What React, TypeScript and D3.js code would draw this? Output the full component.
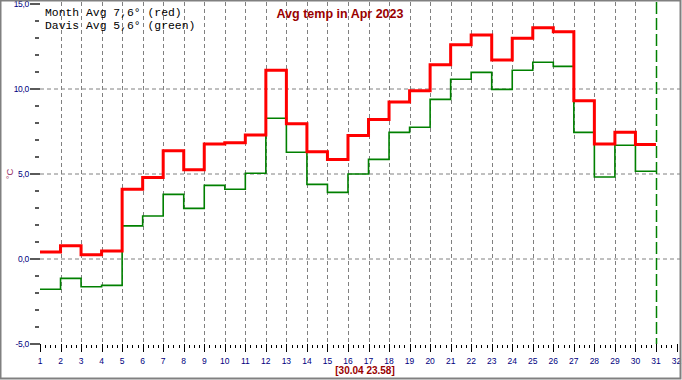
import React from "react";
import * as d3 from "d3";

const days: number[] = d3.range(1, 31);
const monthAvg: number[] = [
  0.41, 0.78, 0.25, 0.47, 4.1, 4.8, 6.37, 5.25, 6.76, 6.84,
  7.29, 11.1, 7.96, 6.31, 5.86, 7.27, 8.2, 9.24, 9.9, 11.43,
  12.6, 13.18, 11.7, 12.98, 13.6, 13.37, 9.31, 6.76, 7.45, 6.73,
];
const davisAvg: number[] = [
  -1.78, -1.14, -1.63, -1.55, 1.95, 2.53, 3.8, 2.98, 4.33, 4.1,
  5.04, 8.28, 6.28, 4.39, 3.92, 5.0, 5.86, 7.45, 7.75, 9.39,
  10.57, 10.98, 9.98, 11.1, 11.57, 11.33, 7.45, 4.82, 6.69, 5.16,
];
const xTickLabels: number[] = d3.range(1, 33);
const yTickLabels: number[] = [-5, 0, 5, 10, 15];
const title = "Avg temp in Apr 2023";
const legend1 = "Month Avg 7,6° (red)";
const legend2 = "Davis Avg 5,6° (green)";
const footer = "[30.04 23.58]";
const cursorDay = 31;

const W = 682;
const H = 380;

export default function App() {
  const x = d3.scaleLinear().domain([1, 32]).range([40, 676.5]);
  const y = d3.scaleLinear().domain([-5, 15]).range([344, 4]);

  const line = d3
    .line<[number, number]>()
    .x((d) => x(d[0]))
    .y((d) => y(d[1]))
    .curve(d3.curveStepAfter);

  const pts = (vals: number[]): [number, number][] => {
    const p: [number, number][] = days.map((d, i) => [d, vals[i]]);
    p.push([days[days.length - 1] + 1, vals[vals.length - 1]]);
    return p;
  };

  const minorY = d3.range(-5, 16).filter((v) => v % 5 !== 0);
  const minorX = d3.range(1, 32, 0.25).filter((v) => v % 1 !== 0);
  const fmt = (v: number) => v.toFixed(1).replace(".", ",");
  const navy = "#000080";
  const dark = "#990000";

  return (
    <svg
      width={W}
      height={H}
      style={{ position: "fixed", left: 0, top: 0, background: "#fff" }}
      fontFamily="'Liberation Sans', Arial, sans-serif"
    >
      <rect x={0} y={0} width={W} height={H} fill="#fff" />
      {/* grid */}
      {[0, 5, 10].map((v) => (
        <line key={"hg" + v} x1={40} x2={680} y1={y(v)} y2={y(v)} stroke="#808080" strokeDasharray="4,3" />
      ))}
      {d3.range(2, 31).map((d) => (
        <line key={"vg" + d} x1={Math.round(x(d)) + 0.5} x2={Math.round(x(d)) + 0.5} y1={2} y2={344} stroke="#808080" strokeDasharray="4,3" />
      ))}
      <line x1={Math.round(x(cursorDay)) + 0.5} x2={Math.round(x(cursorDay)) + 0.5} y1={2} y2={344} stroke="#008000" strokeWidth={1.5} strokeDasharray="12,4" />

      {/* y axis ticks */}
      {yTickLabels.map((v) => (
        <g key={"yt" + v}>
          <line x1={30} x2={40} y1={y(v)} y2={y(v)} stroke="#000" strokeWidth={1.3} />
          <text x={29} y={y(v) + 3} textAnchor="end" fontSize={8.5} fill={navy} letterSpacing={-0.3}>
            {fmt(v)}
          </text>
        </g>
      ))}
      {minorY.map((v) => (
        <line key={"ym" + v} x1={35} x2={39} y1={y(v)} y2={y(v)} stroke="#000" strokeWidth={1.3} />
      ))}

      {/* x axis ticks */}
      {xTickLabels.map((d) => (
        <g key={"xt" + d}>
          <line x1={Math.round(x(d)) + 0.5} x2={Math.round(x(d)) + 0.5} y1={344} y2={352} stroke="#000" />
          <text x={x(d)} y={364} textAnchor="middle" fontSize={8.5} fill={navy}>
            {d}
          </text>
        </g>
      ))}
      {minorX.map((d) => (
        <line key={"xm" + d} x1={Math.round(x(d)) + 0.5} x2={Math.round(x(d)) + 0.5} y1={345} y2={348} stroke="#000" />
      ))}

      {/* series */}
      <path d={line(pts(davisAvg)) || ""} fill="none" stroke="#008000" strokeWidth={1.6} />
      <path d={line(pts(monthAvg)) || ""} fill="none" stroke="#ff0000" strokeWidth={3} />

      {/* texts */}
      <text x={45} y={16} fontFamily="'Liberation Mono', 'Courier New', monospace" fontSize={11.4} fill="#000">
        {legend1}
      </text>
      <text x={45} y={29} fontFamily="'Liberation Mono', 'Courier New', monospace" fontSize={11.4} fill="#000">
        {legend2}
      </text>
      <text x={340} y={18} textAnchor="middle" fontWeight="bold" fontSize={12.5} fill={dark}>
        {title}
      </text>
      <text transform={`translate(13,${y(5)}) rotate(-90)`} textAnchor="middle" fontSize={9.5} fill="#993366">
        °C
      </text>
      <text x={365} y={374} textAnchor="middle" fontWeight="bold" fontSize={10} fill={dark}>
        {footer}
      </text>

      {/* border */}
      <rect x={0.5} y={0.5} width={680} height={378} fill="none" stroke="#808080" strokeWidth={2} />
    </svg>
  );
}
